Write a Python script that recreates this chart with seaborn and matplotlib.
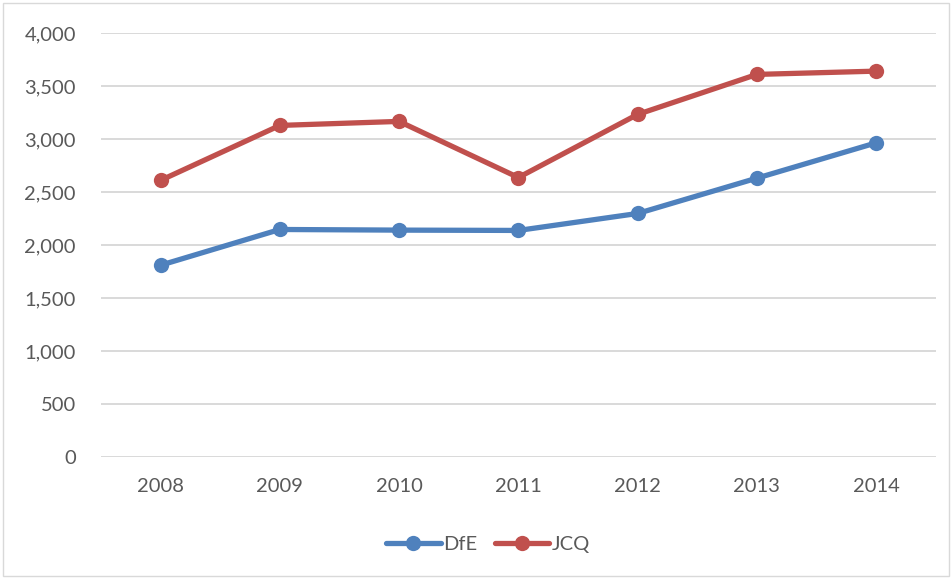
import numpy as np
import matplotlib.pyplot as plt
import matplotlib.ticker as mticker
from matplotlib.patches import Rectangle
import seaborn as sns
import pandas as pd

years = [2008, 2009, 2010, 2011, 2012, 2013, 2014]
dfe = [1810, 2147, 2141, 2138, 2298, 2631, 2964]
jcq = [2610, 3128, 3166, 2637, 3232, 3609, 3640]
series_names = ['DfE', 'JCQ']
colors = ['#4F81BD', '#C0504D']

data = pd.DataFrame({
    'Year': years * 2,
    'Value': dfe + jcq,
    'Series': ['DfE'] * len(years) + ['JCQ'] * len(years),
})

sns.set_style('white')
plt.rcParams['font.family'] = ['Lato', 'DejaVu Sans']

fig = plt.figure(figsize=(9.52, 5.78), dpi=100)
ax = fig.add_axes([0.106, 0.209, 0.877, 0.734])

sns.lineplot(data=data, x='Year', y='Value', hue='Series', hue_order=series_names,
             palette=colors, marker='o', markersize=11, markeredgewidth=0,
             linewidth=3.8, ax=ax, clip_on=False)

ax.set_xlim(years[0] - 0.5, years[-1] + 0.5)
ax.set_ylim(0, 4000)
ax.set_xticks(years)
ax.set_yticks(np.arange(0, 4001, 500))
ax.yaxis.set_major_formatter(mticker.FuncFormatter(lambda v, p: f'{int(v):,}'))
ax.grid(axis='y', color='#D9D9D9', linewidth=1.4)
ax.set_axisbelow(True)
for s in ax.spines.values():
    s.set_visible(False)
ax.tick_params(axis='both', length=0, labelsize=14.5, colors='#595959')
ax.tick_params(axis='x', pad=15)
ax.tick_params(axis='y', pad=18)
ax.set_xlabel('')
ax.set_ylabel('')

# legend sits a little left of the plot centre, like the original
leg = ax.legend(loc='center', bbox_to_anchor=(0.464, -0.205), ncol=2, frameon=False,
                fontsize=14.5, handlelength=2.7, handletextpad=0.15, columnspacing=0.85)
for t in leg.get_texts():
    t.set_color('#595959')

fig.patches.append(Rectangle((0.003, 0.003), 0.994, 0.992, transform=fig.transFigure,
                             fill=False, edgecolor='#D9D9D9', linewidth=1))

fig.savefig('out.png', dpi=100)
